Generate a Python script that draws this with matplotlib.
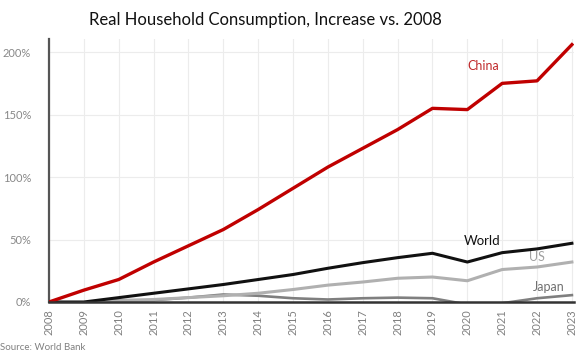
import matplotlib
matplotlib.use("Agg")
import matplotlib.pyplot as plt
from matplotlib.ticker import FuncFormatter

plt.rcParams['font.family'] = ['Lato', 'DejaVu Sans']

years = list(range(2008, 2024))
china = [0, 9.5, 18, 32, 45, 58, 74, 91, 108, 123, 138, 155, 154, 175, 177, 206]
world = [0, 0, 3.5, 7, 10.5, 14, 18, 22, 27, 31.5, 35.5, 39, 32, 39.5, 42.5, 47]
us = [0, -1, 1, 2, 3.5, 5, 7, 10, 13.5, 16, 19, 20, 17, 26, 28, 32]
japan = [0, -1, 1.5, 1.5, 3.5, 6, 5, 3, 2, 3, 3.5, 3, -2, -1, 3, 5.5]
yticks = [0, 50, 100, 150, 200]

fig = plt.figure(figsize=(5.87, 3.52), dpi=100)
ax = fig.add_axes([49/587, 1-302/352, (574-49)/587, (302-39)/352])

ax.plot(years, japan, color='#7f7f7f', lw=1.9, zorder=3)
ax.plot(years, us, color='#b0b0b0', lw=2.2, zorder=3)
ax.plot(years, world, color='#111111', lw=2.2, zorder=4)
ax.plot(years, china, color='#c00000', lw=2.4, zorder=5)

ax.set_xlim(2008, 2023.06)
ax.set_ylim(0, 210.5)
ax.set_xticks(years)
ax.set_xticklabels([str(y) for y in years], rotation=90, fontsize=8, color='#808080')
ax.set_yticks(yticks)
ax.yaxis.set_major_formatter(FuncFormatter(lambda v, p: f"{int(v)}%"))
ax.tick_params(axis='y', labelsize=8, colors='#888888', length=0, pad=13)
ax.tick_params(axis='x', length=0, pad=5)
ax.grid(True, color='#ececec', lw=0.8)
ax.set_axisbelow(True)
for s in ['top', 'right']:
    ax.spines[s].set_visible(False)
ax.spines['left'].set_color('#555555')
ax.spines['left'].set_linewidth(1.6)
ax.spines['bottom'].set_color('#333333')
ax.spines['bottom'].set_linewidth(1.8)
ax.spines['bottom'].set_zorder(6)

ax.text(2020.46, 189, 'China', color='#c0292b', fontsize=9, ha='center', va='center')
ax.text(2020.43, 49, 'World', color='#111111', fontsize=9.5, ha='center', va='center')
ax.text(2022.0, 36, 'US', color='#a0a0a0', fontsize=9, ha='center', va='center')
ax.text(2022.35, 12, 'Japan', color='#707070', fontsize=9, ha='center', va='center')

fig.text(265/587, 1-20/352, 'Real Household Consumption, Increase vs. 2008', ha='center', va='center',
         fontsize=12, color='#111111')
fig.text(0, 1-347/352, 'Source: World Bank', ha='left', va='center', fontsize=7, color='#808080')

fig.savefig('out.png', dpi=100)
